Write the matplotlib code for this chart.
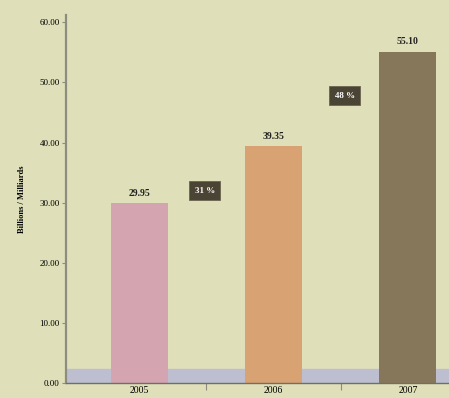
import matplotlib.pyplot as plt

# Данные
years = ['2005', '2006', '2007']
values = [29.95, 39.35, 55.10]
bar_colors = ['#d4a5b1', '#d8a273', '#87775a']
growth_labels = ['31 %', '48 %']
growth_pos = [(0.49, 32.0), (1.53, 47.8)]
band_level = 2.3
y_ticks = [0, 10, 20, 30, 40, 50, 60]

bg = '#dfe0b9'
plt.rcParams['font.family'] = ['Liberation Serif', 'DejaVu Serif']

fig = plt.figure(figsize=(4.49, 3.98), dpi=100)
fig.patch.set_facecolor(bg)
ax = fig.add_axes([0.147, 0.0377, 0.853, 0.9245])
ax.set_facecolor(bg)

x = list(range(len(years)))

# Полоса внизу
ax.axhspan(0, band_level, color='#bdbfd0', zorder=1)

# Столбцы
bars = ax.bar(x, values, width=0.424, color=bar_colors, zorder=2)
for xi, v in zip(x, values):
    ax.text(xi, v + 0.9, f'{v:.2f}', ha='center', va='bottom',
            fontsize=7, fontweight='bold', color='#222222')

# Прирост
for lab, (gx, gy) in zip(growth_labels, growth_pos):
    ax.text(gx, gy, lab, ha='center', va='center', fontsize=6.5,
            fontweight='bold', color='white', zorder=4,
            bbox=dict(boxstyle='square,pad=0.6', fc='#4a4434', ec='#6b6452', lw=0.6))

# Оси
ax.set_xlim(-0.543, 2.305)
ax.set_ylim(0, 61.2)
ax.set_yticks(y_ticks)
ax.set_yticklabels([f'{t:.2f}' for t in y_ticks], fontsize=6.5)
ax.set_xticks(x)
ax.set_xticklabels(years, fontsize=7)
ax.set_xticks([0.5, 1.5], minor=True)
ax.tick_params(axis='x', which='major', length=0, pad=2.5)
ax.tick_params(axis='x', which='minor', length=5, color='#8c8c80', width=0.8)
ax.tick_params(axis='y', length=3, color='#8c8c80', width=0.8, pad=1.5)
ax.set_ylabel('Billions / Milliards', fontsize=6, fontweight='bold', labelpad=10)

for s in ['top', 'right']:
    ax.spines[s].set_visible(False)
ax.spines['left'].set_color('#8c8c80')
ax.spines['left'].set_linewidth(1.6)
ax.spines['bottom'].set_color('#6f6f66')
ax.spines['bottom'].set_linewidth(1.0)

plt.savefig('out.png', dpi=100, facecolor=bg)
plt.close()
